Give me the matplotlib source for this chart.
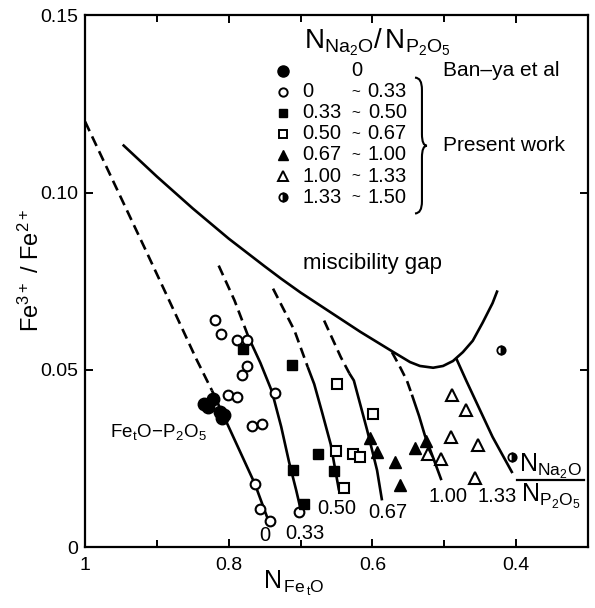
import matplotlib
matplotlib.use("Agg")
import matplotlib.pyplot as plt
from matplotlib.path import Path
from matplotlib.patches import PathPatch

plt.rcParams["font.family"] = ["Liberation Sans", "DejaVu Sans"]
plt.rcParams["mathtext.fontset"] = "custom"
plt.rcParams["mathtext.rm"] = "Liberation Sans"
plt.rcParams["mathtext.it"] = "Liberation Sans:italic"

# ---- measured data: Fe3+/Fe2+ vs N_FetO, grouped by N_Na2O/N_P2O5 ----
banya_x = [0.835, 0.829, 0.822, 0.812, 0.806, 0.810]
banya_y = [0.0405, 0.0395, 0.0418, 0.0380, 0.0372, 0.0365]

r0_033_x = [0.819, 0.811, 0.789, 0.774, 0.774, 0.781, 0.801, 0.788, 0.767, 0.753,
            0.736, 0.763, 0.756, 0.742, 0.702]
r0_033_y = [0.0642, 0.0600, 0.0583, 0.0585, 0.0510, 0.0485, 0.0428, 0.0423, 0.0342, 0.0347,
            0.0435, 0.0179, 0.0109, 0.0074, 0.0099]

r033_050_x = [0.780, 0.712, 0.676, 0.711, 0.695, 0.654]
r033_050_y = [0.0558, 0.0513, 0.0262, 0.0219, 0.0123, 0.0215]

r050_067_x = [0.649, 0.599, 0.651, 0.627, 0.617, 0.640]
r050_067_y = [0.0460, 0.0375, 0.0271, 0.0264, 0.0254, 0.0168]

r067_100_x = [0.603, 0.593, 0.569, 0.561, 0.541, 0.525]
r067_100_y = [0.0309, 0.0268, 0.0240, 0.0175, 0.0281, 0.0300]

r100_133_x = [0.489, 0.470, 0.490, 0.453, 0.522, 0.505, 0.457]
r100_133_y = [0.0428, 0.0386, 0.0311, 0.0287, 0.0262, 0.0250, 0.0196]

r133_150_x = [0.421, 0.405]
r133_150_y = [0.0557, 0.0254]

# ---- miscibility gap boundary ----
gap_x = [0.9476, 0.900, 0.850, 0.800, 0.750, 0.727, 0.700, 0.6625, 0.6166, 0.5706,
         0.5476, 0.5338, 0.5154, 0.5016, 0.4878, 0.474, 0.4603, 0.4465, 0.4327, 0.4258]
gap_y = [0.1135, 0.1045, 0.0955, 0.0870, 0.0792, 0.0757, 0.0718, 0.0668, 0.0607, 0.0550,
         0.0522, 0.0511, 0.0506, 0.0511, 0.0525, 0.0550, 0.0582, 0.0633, 0.0688, 0.0724]

# ---- iso-ratio lines (dashed = extrapolated part, solid = measured range) ----
iso_labels = ["0", "0.33", "0.50", "0.67", "1.00", "1.33"]
iso_dash_x = [[1.000, 0.9155, 0.883, 0.845, 0.8234],
              [0.814, 0.792, 0.772],
              [0.7383, 0.7085, 0.690],
              [0.6672, 0.644, 0.632],
              [0.5728, 0.562, 0.552, 0.545],
              []]
iso_dash_y = [[0.120, 0.0837, 0.0696, 0.0530, 0.0442],
              [0.0794, 0.0696, 0.0590],
              [0.0729, 0.0611, 0.0508],
              [0.0639, 0.0536, 0.0490],
              [0.0550, 0.0510, 0.0470, 0.0430],
              []]
iso_solid_x = [[0.8234, 0.7637, 0.745],
               [0.772, 0.756, 0.740, 0.727, 0.716, 0.706, 0.699],
               [0.690, 0.681, 0.670, 0.658, 0.6465],
               [0.632, 0.6258, 0.6073, 0.5935, 0.5866],
               [0.545, 0.535, 0.5269, 0.515, 0.5039],
               [0.4832, 0.4694, 0.4327, 0.405]]
iso_solid_y = [[0.0442, 0.0179, 0.0076],
               [0.0590, 0.0520, 0.0440, 0.0340, 0.0240, 0.0160, 0.0099],
               [0.0508, 0.0460, 0.0380, 0.0290, 0.0160],
               [0.0490, 0.0470, 0.0330, 0.0217, 0.0132],
               [0.0430, 0.0370, 0.0315, 0.0250, 0.0189],
               [0.0532, 0.0470, 0.0311, 0.0209]]
iso_label_x = [0.750, 0.694, 0.649, 0.578, 0.495, 0.426]
iso_label_y = [0.0034, 0.0040, 0.0109, 0.0099, 0.0142, 0.0144]

# legend bins
ratio_lo = ["0", "0.33", "0.50", "0.67", "1.00", "1.33"]
ratio_hi = ["0.33", "0.50", "0.67", "1.00", "1.33", "1.50"]

x_ticks = [0.8, 0.6, 0.4]
x_minor = [0.9, 0.7, 0.5]
y_ticks = [0.0, 0.05, 0.10, 0.15]
y_ticklabels = ["0", "0.05", "0.10", "0.15"]

fig = plt.figure(figsize=(5.95, 6.08), dpi=100)
ax = fig.add_axes([0.143, 0.100, 0.845, 0.875])
ax.set_xlim(1.0, 0.30)
ax.set_ylim(0.0, 0.15)

lw = 1.9
dash = (0, (4.0, 2.2))
ax.plot(gap_x, gap_y, color="black", lw=lw, solid_capstyle="butt", solid_joinstyle="round")
for dx, dy, sx, sy in zip(iso_dash_x, iso_dash_y, iso_solid_x, iso_solid_y):
    if dx:
        ax.plot(dx, dy, color="black", lw=lw, linestyle=dash)
    ax.plot(sx, sy, color="black", lw=lw, solid_capstyle="butt", solid_joinstyle="round")
for lab, lx, ly in zip(iso_labels, iso_label_x, iso_label_y):
    ax.text(lx, ly, lab, ha="center", va="center", fontsize=14.5)

# markers
mk = dict(linestyle="none", color="black", zorder=5)
ax.plot(banya_x, banya_y, marker="o", ms=9, mfc="black", mec="black", **mk)
ax.plot(r0_033_x, r0_033_y, marker="o", ms=7, mfc="white", mec="black", mew=1.5, **mk)
ax.plot(r033_050_x, r033_050_y, marker="s", ms=6.5, mfc="black", mec="black", **mk)
ax.plot(r050_067_x, r050_067_y, marker="s", ms=6.5, mfc="white", mec="black", mew=1.5, **mk)
ax.plot(r067_100_x, r067_100_y, marker="^", ms=8, mfc="black", mec="black", **mk)
ax.plot(r100_133_x, r100_133_y, marker="^", ms=8, mfc="white", mec="black", mew=1.5, **mk)
ax.plot(r133_150_x, r133_150_y, marker="o", ms=6, fillstyle="right", mfc="black",
        markerfacecoloralt="white", mec="black", mew=1.3, **mk)

# annotations
ax.text(0.600, 0.0799, "miscibility gap", ha="center", va="center", fontsize=16)
ax.text(0.966, 0.0325, r"$\mathrm{Fe_tO\!-\!P_2O_5}$", ha="left", va="center", fontsize=13.5)
ax.text(0.352, 0.0228, r"$\mathrm{N_{Na_2O}}$", ha="center", va="center", fontsize=18)
ax.text(0.352, 0.0142, r"$\mathrm{N_{P_2O_5}}$", ha="center", va="center", fontsize=18)
ax.plot([0.398, 0.306], [0.0189, 0.0189], color="black", lw=1.6)

# legend block
ax.text(0.695, 0.1425, r"$\mathrm{N_{Na_2O}/\,N_{P_2O_5}}$", ha="left", va="center", fontsize=20)
row_y0 = 0.1344
row_dy = 0.00595
mx = 0.7246
ax.plot([mx], [row_y0], marker="o", ms=8, mfc="black", mec="black", **mk)
ax.text(0.621, row_y0, "0", ha="center", va="center", fontsize=14.5)
ax.text(0.5017, row_y0, "Ban\u2013ya et al", ha="left", va="center", fontsize=15)
leg_styles = [dict(marker="o", ms=6, mfc="white", mec="black", mew=1.4),
              dict(marker="s", ms=6, mfc="black", mec="black"),
              dict(marker="s", ms=5.5, mfc="white", mec="black", mew=1.4),
              dict(marker="^", ms=7.5, mfc="black", mec="black"),
              dict(marker="^", ms=7.5, mfc="white", mec="black", mew=1.4),
              dict(marker="o", ms=6, fillstyle="right", mfc="black",
                   markerfacecoloralt="white", mec="black", mew=1.3)]
for i, (lo, hi, st) in enumerate(zip(ratio_lo, ratio_hi, leg_styles)):
    yy = row_y0 - (i + 1) * row_dy
    ax.plot([mx], [yy], **st, **mk)
    ax.text(0.697, yy, lo, ha="left", va="center", fontsize=14.5)
    ax.text(0.623, yy, "~", ha="center", va="center", fontsize=11)
    ax.text(0.552, yy, hi, ha="right", va="center", fontsize=14.5)

# curly brace grouping the present-work rows
bt, bb, bm = 0.1324, 0.0941, 0.1132
xa, xb, xc = 0.5407, 0.531, 0.5241
verts = [(xa, bt), (xb, bt), (xb, bt - 0.0034), (xb, bm + 0.0033),
         (xb, bm), (xc, bm), (xb, bm), (xb, bm - 0.0033),
         (xb, bb + 0.0034), (xb, bb), (xa, bb)]
codes = [Path.MOVETO, Path.CURVE3, Path.CURVE3, Path.LINETO,
         Path.CURVE3, Path.CURVE3, Path.CURVE3, Path.CURVE3,
         Path.LINETO, Path.CURVE3, Path.CURVE3]
ax.add_patch(PathPatch(Path(verts, codes), fill=False, lw=1.5, color="black"))
ax.text(0.5017, bm, "Present work", ha="left", va="center", fontsize=15)

# axes styling
for s in ax.spines.values():
    s.set_linewidth(1.6)
ax.set_xticks([1.0] + x_ticks)
ax.set_xticklabels(["1", "0.8", "0.6", "0.4"])
ax.set_xticks(x_minor, minor=True)
ax.set_yticks(y_ticks)
ax.set_yticklabels(y_ticklabels)
ax.tick_params(axis="both", which="both", direction="in", top=True, right=True,
               width=1.4, labelsize=14)
ax.tick_params(which="major", length=6)
ax.tick_params(which="minor", length=5)
ax.tick_params(axis="x", pad=7)
ax.tick_params(axis="y", pad=5)

fig.text(0.494, 0.040, r"$\mathrm{N_{\,Fe_{\,t}O}}$", ha="center", va="center", fontsize=18)
fig.text(0.052, 0.555, r"$\mathrm{Fe^{3+}\ /\ Fe^{2+}}$", ha="center", va="center",
         fontsize=17, rotation=90)

fig.savefig("out.png", dpi=100)
